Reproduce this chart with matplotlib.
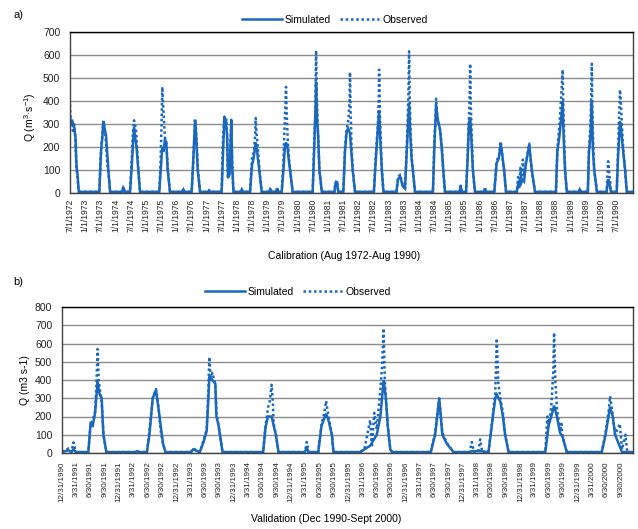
import pandas as pd
import matplotlib
matplotlib.use("Agg")
import matplotlib.pyplot as plt

plt.rcParams["font.family"] = ["Liberation Sans", "DejaVu Sans"]
plt.rcParams["mathtext.fontset"] = "custom"
plt.rcParams["mathtext.rm"] = "Liberation Sans"

# calibration period, (date, Q)
cal_sim = [
    ("1972-07-01", 330), ("1972-07-15", 300), ("1972-08-01", 310), ("1972-08-20", 290), ("1972-09-05", 240), ("1972-09-18", 110), ("1972-09-30", 80), ("1972-10-15", 5),
    ("1973-06-19", 5), ("1973-07-01", 110), ("1973-07-10", 185), ("1973-07-25", 240), ("1973-08-07", 312), ("1973-08-22", 280), ("1973-09-08", 250), ("1973-09-25", 160), ("1973-10-06", 100), ("1973-10-27", 5),
    ("1974-03-20", 5), ("1974-04-04", 25), ("1974-04-20", 5),
    ("1974-06-24", 5), ("1974-07-15", 120), ("1974-07-30", 220), ("1974-08-11", 285), ("1974-08-25", 240), ("1974-09-10", 200), ("1974-10-02", 100), ("1974-10-22", 5),
    ("1975-06-11", 5), ("1975-07-01", 110), ("1975-07-17", 200), ("1975-08-01", 180), ("1975-08-18", 235), ("1975-09-05", 210), ("1975-09-20", 100), ("1975-10-18", 5),
    ("1976-03-15", 5), ("1976-03-27", 15), ("1976-04-10", 5),
    ("1976-07-05", 5), ("1976-07-25", 150), ("1976-08-15", 318), ("1976-08-28", 250), ("1976-09-16", 100), ("1976-10-14", 5),
    ("1977-01-20", 5), ("1977-01-31", 10), ("1977-02-10", 5),
    ("1977-07-01", 5), ("1977-07-20", 200), ("1977-08-03", 328), ("1977-08-20", 310), ("1977-09-05", 250), ("1977-09-15", 70), ("1977-10-05", 80), ("1977-10-25", 316), ("1977-11-05", 120), ("1977-11-20", 5),
    ("1978-02-15", 5), ("1978-02-28", 15), ("1978-03-12", 5),
    ("1978-06-08", 5), ("1978-07-01", 120), ("1978-07-20", 150), ("1978-08-15", 220), ("1978-09-01", 180), ("1978-09-27", 100), ("1978-10-26", 5),
    ("1979-01-25", 5), ("1979-02-05", 15), ("1979-02-20", 5), ("1979-04-20", 5), ("1979-05-01", 20), ("1979-05-12", 5),
    ("1979-06-24", 5), ("1979-07-15", 100), ("1979-08-01", 200), ("1979-08-15", 220), ("1979-09-01", 200), ("1979-09-15", 150), ("1979-10-03", 100), ("1979-11-03", 5),
    ("1980-07-01", 5), ("1980-07-20", 200), ("1980-08-05", 380), ("1980-08-11", 483), ("1980-08-22", 330), ("1980-09-05", 250), ("1980-09-20", 100), ("1980-10-19", 5),
    ("1981-03-20", 5), ("1981-04-01", 40), ("1981-04-20", 50), ("1981-05-05", 5),
    ("1981-07-05", 5), ("1981-07-25", 180), ("1981-08-15", 270), ("1981-09-01", 280), ("1981-09-23", 260), ("1981-10-10", 180), ("1981-10-26", 100), ("1981-11-23", 5),
    ("1982-07-08", 5), ("1982-08-01", 150), ("1982-08-25", 280), ("1982-09-09", 360), ("1982-09-25", 220), ("1982-10-12", 100), ("1982-10-31", 5),
    ("1983-04-05", 5), ("1983-04-25", 60), ("1983-05-20", 72), ("1983-06-20", 30),
    ("1983-07-18", 20), ("1983-08-10", 200), ("1983-09-05", 391), ("1983-09-20", 250), ("1983-10-05", 150), ("1983-10-20", 100), ("1983-11-15", 5),
    ("1984-06-18", 5), ("1984-07-05", 200), ("1984-07-26", 380), ("1984-08-15", 320), ("1984-09-10", 280), ("1984-10-01", 200), ("1984-10-20", 100), ("1984-11-10", 5),
    ("1985-05-05", 5), ("1985-05-18", 30), ("1985-06-01", 5),
    ("1985-07-22", 5), ("1985-08-10", 150), ("1985-08-25", 300), ("1985-09-09", 330), ("1985-09-22", 250), ("1985-10-12", 100), ("1985-11-06", 5),
    ("1986-02-25", 5), ("1986-03-07", 20), ("1986-03-20", 5),
    ("1986-06-27", 5), ("1986-07-25", 130), ("1986-08-20", 150), ("1986-09-12", 215), ("1986-09-30", 170), ("1986-10-23", 100), ("1986-11-15", 5),
    ("1987-03-25", 5), ("1987-04-15", 50), ("1987-05-05", 30), ("1987-05-25", 60), ("1987-06-20", 50), ("1987-07-10", 120), ("1987-08-22", 210), ("1987-09-05", 160), ("1987-09-21", 100), ("1987-10-30", 5),
    ("1988-07-08", 5), ("1988-07-25", 180), ("1988-08-20", 250), ("1988-09-10", 330), ("1988-09-27", 400), ("1988-10-08", 250), ("1988-10-26", 100), ("1988-11-16", 5),
    ("1989-04-10", 5), ("1989-04-22", 15), ("1989-05-05", 5),
    ("1989-07-27", 5), ("1989-08-10", 180), ("1989-08-28", 250), ("1989-09-13", 400), ("1989-09-25", 200), ("1989-10-12", 100), ("1989-11-14", 5),
    ("1990-03-10", 5), ("1990-03-29", 60), ("1990-04-15", 40), ("1990-05-01", 5),
    ("1990-07-10", 5), ("1990-07-25", 150), ("1990-08-10", 250), ("1990-08-18", 311), ("1990-09-01", 280), ("1990-09-20", 200), ("1990-10-19", 100), ("1990-11-08", 5),
    ("1991-01-15", 5),
]

cal_obs = [
    ("1972-07-01", 384), ("1972-07-10", 300), ("1972-07-22", 315), ("1972-08-05", 270), ("1972-08-18", 305), ("1972-09-01", 250), ("1972-09-15", 120), ("1972-09-28", 70), ("1972-10-12", 10), ("1972-10-25", 5),
    ("1973-06-19", 5), ("1973-07-05", 150), ("1973-07-12", 190), ("1973-07-28", 270), ("1973-08-07", 315), ("1973-08-20", 290), ("1973-09-05", 230), ("1973-09-22", 130), ("1973-10-06", 90), ("1973-10-27", 5),
    ("1974-03-20", 5), ("1974-04-04", 28), ("1974-04-20", 5),
    ("1974-06-24", 5), ("1974-07-12", 130), ("1974-07-28", 260), ("1974-08-11", 316), ("1974-08-22", 300), ("1974-09-05", 270), ("1974-09-18", 190), ("1974-10-02", 100), ("1974-10-22", 5),
    ("1975-06-11", 5), ("1975-06-28", 150), ("1975-07-10", 330), ("1975-07-17", 461), ("1975-07-25", 400), ("1975-08-05", 330), ("1975-08-18", 240), ("1975-09-05", 220), ("1975-09-20", 110), ("1975-10-18", 5),
    ("1976-03-15", 5), ("1976-03-27", 20), ("1976-04-10", 5),
    ("1976-07-05", 5), ("1976-07-22", 120), ("1976-08-15", 320), ("1976-08-25", 280), ("1976-09-05", 200), ("1976-09-16", 110), ("1976-10-14", 5),
    ("1977-01-20", 5), ("1977-01-31", 12), ("1977-02-10", 5),
    ("1977-07-01", 5), ("1977-07-18", 250), ("1977-08-03", 332), ("1977-08-15", 300), ("1977-08-28", 320), ("1977-09-08", 200), ("1977-09-15", 60), ("1977-10-10", 150), ("1977-10-25", 318), ("1977-11-05", 130), ("1977-11-20", 5),
    ("1978-02-15", 5), ("1978-02-28", 18), ("1978-03-12", 5),
    ("1978-06-08", 5), ("1978-07-01", 150), ("1978-07-25", 180), ("1978-08-08", 250), ("1978-08-15", 326), ("1978-08-25", 260), ("1978-09-10", 200), ("1978-09-27", 110), ("1978-10-26", 5),
    ("1979-01-25", 5), ("1979-02-05", 18), ("1979-02-20", 5), ("1979-04-20", 5), ("1979-05-01", 25), ("1979-05-12", 5),
    ("1979-06-24", 5), ("1979-07-12", 120), ("1979-07-30", 300), ("1979-08-10", 400), ("1979-08-15", 461), ("1979-08-22", 360), ("1979-09-05", 230), ("1979-09-20", 150), ("1979-10-03", 100), ("1979-11-03", 5),
    ("1980-07-01", 5), ("1980-07-20", 230), ("1980-08-01", 330), ("1980-08-11", 619), ("1980-08-18", 450), ("1980-08-28", 320), ("1980-09-10", 200), ("1980-09-20", 100), ("1980-10-19", 5),
    ("1981-03-20", 5), ("1981-04-01", 45), ("1981-04-20", 55), ("1981-05-05", 5),
    ("1981-07-05", 5), ("1981-07-25", 200), ("1981-08-15", 280), ("1981-09-05", 320), ("1981-09-18", 400), ("1981-09-23", 525), ("1981-10-01", 360), ("1981-10-12", 200), ("1981-10-26", 100), ("1981-11-23", 5),
    ("1982-07-08", 5), ("1982-08-01", 170), ("1982-08-25", 300), ("1982-09-05", 420), ("1982-09-09", 536), ("1982-09-18", 350), ("1982-10-01", 200), ("1982-10-12", 100), ("1982-10-31", 5),
    ("1983-04-05", 5), ("1983-04-25", 70), ("1983-05-20", 80), ("1983-06-20", 35),
    ("1983-07-18", 20), ("1983-08-10", 220), ("1983-08-28", 430), ("1983-09-05", 616), ("1983-09-12", 420), ("1983-09-25", 250), ("1983-10-08", 150), ("1983-10-20", 100), ("1983-11-15", 5),
    ("1984-06-18", 5), ("1984-07-05", 230), ("1984-07-20", 330), ("1984-07-26", 410), ("1984-08-08", 340), ("1984-08-25", 300), ("1984-09-15", 270), ("1984-10-05", 190), ("1984-10-20", 100), ("1984-11-10", 5),
    ("1985-05-05", 5), ("1985-05-18", 32), ("1985-06-01", 5),
    ("1985-07-22", 5), ("1985-08-10", 170), ("1985-08-28", 350), ("1985-09-05", 450), ("1985-09-09", 562), ("1985-09-16", 400), ("1985-09-28", 250), ("1985-10-12", 100), ("1985-11-06", 5),
    ("1986-02-25", 5), ("1986-03-07", 22), ("1986-03-20", 5),
    ("1986-06-27", 5), ("1986-07-25", 140), ("1986-08-20", 160), ("1986-09-05", 200), ("1986-09-12", 225), ("1986-09-25", 180), ("1986-10-10", 130), ("1986-10-23", 100), ("1986-11-15", 5),
    ("1987-03-25", 5), ("1987-04-10", 70), ("1987-04-25", 20), ("1987-05-08", 110), ("1987-05-20", 40), ("1987-06-05", 145), ("1987-06-20", 80), ("1987-07-10", 130), ("1987-08-10", 190), ("1987-08-22", 215), ("1987-09-05", 150), ("1987-09-21", 100), ("1987-10-30", 5),
    ("1988-07-08", 5), ("1988-07-25", 190), ("1988-08-20", 300), ("1988-09-10", 420), ("1988-09-27", 536), ("1988-10-05", 380), ("1988-10-15", 250), ("1988-10-26", 100), ("1988-11-16", 5),
    ("1989-04-10", 5), ("1989-04-22", 18), ("1989-05-05", 5),
    ("1989-07-27", 5), ("1989-08-10", 190), ("1989-08-28", 300), ("1989-09-08", 450), ("1989-09-13", 562), ("1989-09-20", 350), ("1989-10-01", 200), ("1989-10-12", 100), ("1989-11-14", 5),
    ("1990-03-10", 5), ("1990-03-29", 138), ("1990-04-10", 90), ("1990-04-20", 60), ("1990-05-01", 5),
    ("1990-07-10", 5), ("1990-07-25", 180), ("1990-08-10", 350), ("1990-08-18", 449), ("1990-08-28", 400), ("1990-09-10", 300), ("1990-09-25", 200), ("1990-10-19", 100), ("1990-11-08", 5),
    ("1991-01-15", 5),
]

# validation period
val_sim = [
    ("1990-12-31", 5), ("1991-02-10", 15), ("1991-03-01", 5), ("1991-03-14", 20), ("1991-03-30", 5),
    ("1991-06-17", 5), ("1991-07-01", 160), ("1991-07-15", 150), ("1991-07-30", 220), ("1991-08-15", 390), ("1991-08-25", 330), ("1991-09-10", 300), ("1991-09-15", 200), ("1991-09-21", 100), ("1991-10-10", 5),
    ("1992-04-10", 5), ("1992-04-22", 10), ("1992-05-05", 5),
    ("1992-06-24", 5), ("1992-07-10", 100), ("1992-07-31", 300), ("1992-08-21", 345), ("1992-09-05", 250), ("1992-10-05", 50), ("1992-10-20", 5),
    ("1993-04-01", 5), ("1993-04-15", 20), ("1993-05-27", 5), ("1993-06-20", 60), ("1993-07-10", 120), ("1993-07-21", 300), ("1993-07-27", 420), ("1993-08-15", 400), ("1993-09-03", 380), ("1993-09-10", 200), ("1993-09-24", 150), ("1993-10-19", 5),
    ("1994-07-05", 5), ("1994-07-20", 140), ("1994-08-05", 200), ("1994-08-28", 200), ("1994-09-10", 150), ("1994-09-24", 100), ("1994-10-11", 5),
    ("1995-03-28", 5), ("1995-04-09", 30), ("1995-04-20", 5),
    ("1995-06-21", 5), ("1995-07-12", 150), ("1995-08-10", 215), ("1995-08-25", 180), ("1995-09-16", 100), ("1995-09-26", 5),
    ("1996-03-14", 5), ("1996-05-17", 40), ("1996-06-28", 100), ("1996-07-21", 200), ("1996-08-11", 400), ("1996-08-25", 300), ("1996-09-06", 150), ("1996-09-22", 20), ("1996-10-05", 5),
    ("1997-06-07", 5), ("1997-07-05", 100), ("1997-07-31", 300), ("1997-08-20", 100), ("1997-09-18", 50), ("1997-10-30", 5),
    ("1998-02-10", 5), ("1998-02-24", 10), ("1998-04-18", 10), ("1998-06-10", 5), ("1998-07-01", 150), ("1998-07-23", 300), ("1998-08-02", 320), ("1998-08-25", 280), ("1998-09-10", 200), ("1998-09-24", 100), ("1998-10-16", 5),
    ("1999-06-07", 5), ("1999-06-28", 150), ("1999-07-15", 200), ("1999-08-02", 260), ("1999-08-20", 200), ("1999-09-09", 110), ("1999-09-25", 90), ("1999-10-22", 5),
    ("2000-06-01", 5), ("2000-06-25", 100), ("2000-07-24", 253), ("2000-08-10", 200), ("2000-08-25", 100), ("2000-10-08", 5), ("2000-12-15", 5),
]

val_obs = [
    ("1990-12-31", 5), ("1991-02-10", 25), ("1991-03-01", 5), ("1991-03-14", 58), ("1991-03-30", 5),
    ("1991-06-17", 5), ("1991-07-01", 160), ("1991-07-15", 180), ("1991-07-30", 230), ("1991-08-08", 390), ("1991-08-15", 570), ("1991-08-22", 400), ("1991-09-01", 330), ("1991-09-10", 280), ("1991-09-15", 200), ("1991-09-21", 100), ("1991-10-10", 5),
    ("1992-04-10", 5), ("1992-04-22", 12), ("1992-05-05", 5),
    ("1992-06-24", 5), ("1992-07-10", 120), ("1992-07-31", 300), ("1992-08-21", 350), ("1992-09-05", 260), ("1992-09-20", 120), ("1992-10-05", 50), ("1992-10-20", 5),
    ("1993-04-01", 5), ("1993-04-15", 25), ("1993-05-27", 5), ("1993-06-20", 70), ("1993-07-10", 130), ("1993-07-21", 350), ("1993-07-27", 526), ("1993-08-05", 400), ("1993-08-15", 440), ("1993-09-03", 380), ("1993-09-10", 220), ("1993-09-24", 150), ("1993-10-19", 5),
    ("1994-07-05", 5), ("1994-07-20", 150), ("1994-08-05", 250), ("1994-08-15", 280), ("1994-08-28", 374), ("1994-09-05", 270), ("1994-09-10", 160), ("1994-09-24", 100), ("1994-10-11", 5),
    ("1995-03-28", 5), ("1995-04-09", 60), ("1995-04-20", 5),
    ("1995-06-21", 5), ("1995-07-12", 160), ("1995-07-30", 220), ("1995-08-10", 285), ("1995-08-25", 200), ("1995-09-16", 100), ("1995-09-26", 5),
    ("1996-03-14", 5), ("1996-04-10", 20), ("1996-05-17", 180), ("1996-05-28", 30), ("1996-06-12", 220), ("1996-06-28", 130), ("1996-07-21", 350), ("1996-08-01", 480), ("1996-08-11", 683), ("1996-08-18", 400), ("1996-08-25", 300), ("1996-09-06", 150), ("1996-09-22", 20), ("1996-10-05", 5),
    ("1997-06-07", 5), ("1997-07-05", 110), ("1997-07-31", 300), ("1997-08-20", 110), ("1997-09-18", 55), ("1997-10-30", 5),
    ("1998-02-10", 5), ("1998-02-24", 60), ("1998-03-10", 5), ("1998-04-05", 5), ("1998-04-18", 75), ("1998-05-01", 5),
    ("1998-06-10", 5), ("1998-07-01", 160), ("1998-07-23", 330), ("1998-08-02", 628), ("1998-08-12", 380), ("1998-08-25", 300), ("1998-09-10", 220), ("1998-09-24", 100), ("1998-10-16", 5),
    ("1999-06-07", 5), ("1999-06-20", 200), ("1999-06-28", 150), ("1999-07-15", 250), ("1999-07-28", 450), ("1999-08-02", 659), ("1999-08-10", 400), ("1999-08-20", 250), ("1999-09-09", 120), ("1999-09-18", 160), ("1999-09-25", 90), ("1999-10-22", 5),
    ("2000-06-01", 5), ("2000-06-25", 110), ("2000-07-15", 230), ("2000-07-24", 311), ("2000-08-05", 240), ("2000-08-25", 100), ("2000-09-24", 160), ("2000-10-08", 20), ("2000-10-30", 100), ("2000-11-10", 5), ("2000-12-15", 5),
]

cal_ticks = pd.date_range("1972-07-01", "1990-07-01", freq=pd.offsets.MonthBegin(6))
val_ticks = pd.date_range("1990-12-31", "2000-09-30", freq=pd.offsets.QuarterEnd())

blue = "#1a68bd"


def unpack(pairs):
    d = pd.to_datetime([p[0] for p in pairs])
    q = [p[1] for p in pairs]
    return d, q


fig = plt.figure(figsize=(6.38, 5.29), dpi=100)
ax1 = fig.add_axes([70 / 638, 1 - 193 / 529, 563 / 638, 161 / 529])
ax2 = fig.add_axes([62 / 638, 1 - 453 / 529, 571 / 638, 146 / 529])

panels = [
    (ax1, cal_sim, cal_obs, cal_ticks, 700, pd.Timestamp("1972-07-01"), pd.Timestamp("1991-01-22"), 6.2, 4),
    (ax2, val_sim, val_obs, val_ticks, 800, pd.Timestamp("1990-12-31"), pd.Timestamp("2000-12-17"), 5.8, 6),
]

for ax, sim, obs, ticks, ymax, x0, x1, tfs, tpad in panels:
    d, q = unpack(sim)
    ax.plot(d, q, color=blue, lw=1.8, solid_joinstyle="miter", label="Simulated")
    d, q = unpack(obs)
    ax.plot(d, q, color=blue, lw=1.8, linestyle=(0, (1, 1.1)), label="Observed")
    ax.set_xlim(x0, x1)
    ax.set_ylim(0, ymax)
    ax.set_yticks(range(0, ymax + 1, 100))
    ax.yaxis.grid(True, color="#8c8c8c", lw=1)
    ax.set_axisbelow(True)
    ax.set_xticks(ticks)
    ax.set_xticklabels([f"{t.month}/{t.day}/{t.year}" for t in ticks],
                       rotation=90, fontsize=tfs, color="#222222")
    ax.tick_params(axis="x", length=0, pad=tpad)
    ax.tick_params(axis="y", length=0, pad=7, labelsize=7.5, labelcolor="#222222")
    for s in ax.spines.values():
        s.set_color("#404040")
        s.set_linewidth(1)
    ax.spines["top"].set_color("black")

ax1.set_ylabel(r"Q (m$^{3}$·s$^{-1}$)", fontsize=7.5)
ax1.yaxis.set_label_coords(-0.056, 0.47)
ax1.set_xlabel("Calibration (Aug 1972-Aug 1990)", fontsize=7.5)
ax1.xaxis.set_label_coords(0.487, -0.36)

ax2.set_ylabel("Q (m3 s-1)", fontsize=7.5)
ax2.yaxis.set_label_coords(-0.056, 0.5)
ax2.set_xlabel("Validation (Dec 1990-Sept 2000)", fontsize=7.5)
ax2.xaxis.set_label_coords(0.462, -0.418)

for ax, cx, cy in [(ax1, 335, 20), (ax2, 298, 292)]:
    h, l = ax.get_legend_handles_labels()
    fig.legend(h, l, loc="center", bbox_to_anchor=(cx / 638, 1 - cy / 529),
               ncol=2, frameon=False, fontsize=7.5, handlelength=3.8,
               handletextpad=0.3, columnspacing=0.8)

fig.text(13 / 638, 1 - 15 / 529, "a)", fontsize=8, va="center")
fig.text(13 / 638, 1 - 282 / 529, "b)", fontsize=8, va="center")

fig.savefig("out.png", dpi=100)
